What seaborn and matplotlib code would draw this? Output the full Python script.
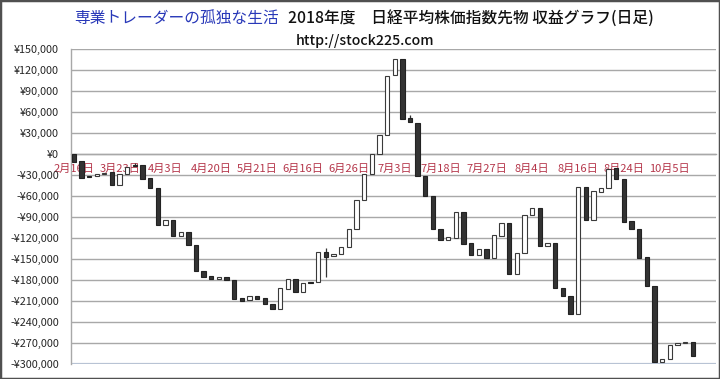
import matplotlib
matplotlib.use("Agg")
import matplotlib.pyplot as plt
from matplotlib.patches import Rectangle
from matplotlib.ticker import FuncFormatter
import numpy as np
import pandas as pd
import seaborn as sns

# ---- data (yen) ----
open_vals = [0, -10300, -31000, -31500, -28000, -25600, -44700, -29000, -15000, -16000,
             -34200, -48000, -101000, -94700, -117000, -111000, -129600, -167300, -174400, -179200,
             -175400, -180000, -206000, -209300, -203500, -206400, -215000, -221200, -192600, -178300,
             -196900, -182500, -183500, -140500, -146300, -143400, -133400, -107600, -66100, -28900,
             0, 27800, 112800, 136500, 51200, 45000, -31800, -59500, -107200, -122500,
             -119600, -82400, -127600, -144400, -136200, -148200, -116800, -98600, -172000, -142000,
             -87600, -77100, -131000, -126800, -191200, -203000, -229300, -47500, -94300, -53800,
             -49000, -20300, -36100, -95700, -106800, -147300, -188300, -297000, -293200, -273200,
             -270700, -268500]
close_vals = [-11600, -34200, -33000, -28000, -26500, -44700, -28000, -19000, -16500, -35200,
              -49000, -101500, -95000, -117200, -111000, -130500, -167700, -175900, -179200, -176300,
              -180000, -207000, -209800, -203000, -207000, -215000, -221700, -192000, -178300, -197300,
              -184000, -184000, -140500, -146800, -143000, -132500, -107600, -66100, -28900, 0,
              27800, 112200, 136500, 50200, 46000, -31800, -59500, -107200, -122900, -119000,
              -82400, -128200, -144800, -136200, -148200, -116200, -98200, -172000, -142000, -86700,
              -77100, -131500, -127000, -192000, -203000, -229300, -47500, -94300, -52800, -48000,
              -21800, -36100, -97200, -107600, -148200, -188700, -297100, -292800, -273200, -270000,
              -268500, -289000]
tick_pos = [0, 6, 12, 18, 24, 30, 36, 42, 48, 54, 60, 66, 72, 78]
tick_labels = ["2月16日", "3月23日", "4月3日", "4月20日", "5月21日", "6月16日", "6月26日",
               "7月3日", "7月18日", "7月27日", "8月4日", "8月16日", "8月24日", "10月5日"]
wick_idx = [8, 33, 44]
wick_high = [-13000, -134800, 56000]
wick_low = [-16500, -175400, 46000]
y_ticks = [-300000, -270000, -240000, -210000, -180000, -150000, -120000, -90000, -60000,
           -30000, 0, 30000, 60000, 90000, 120000, 150000]

title_blue = "専業トレーダーの孤独な生活"
title_black = "2018年度　日経平均株価指数先物 収益グラフ(日足)"
subtitle = "http://stock225.com"

# ---- style ----
sns.set_theme(style="white")
plt.rcParams['font.family'] = ['Noto Sans CJK JP', 'DejaVu Sans']

fig = plt.figure(figsize=(7.2, 3.79), dpi=100)
fig.patch.set_facecolor("white")
L, R, T, B = 70.7, 716.0, 49.3, 363.7
ax = fig.add_axes([L / 720, 1 - B / 379, (R - L) / 720, (B - T) / 379])

n = len(open_vals)
df = pd.DataFrame({"day": [str(i) for i in range(n)], "open": open_vals, "close": close_vals})
df["low"] = df[["open", "close"]].min(axis=1)
df["body"] = (df["close"] - df["open"]).abs()
df["up"] = df["close"] > df["open"]

# wicks (behind bodies)
ax.vlines(wick_idx, wick_low, wick_high, color="#333333", lw=0.9, zorder=2)

sns.barplot(data=df, x="day", y="body", order=list(df["day"]), bottom=df["low"].values,
            errorbar=None, width=0.57, color="#333333", saturation=1, ax=ax, zorder=3)
for patch, up in zip(ax.patches, df["up"]):
    if up:
        patch.set_facecolor("white")
        patch.set_edgecolor("#3a3a3a")
    else:
        patch.set_facecolor("#333333")
        patch.set_edgecolor("#222222")
    patch.set_linewidth(0.8)

ax.set_ylim(-300000, 150000)
ax.set_xlim(-0.4, 84.05)
ax.set_yticks(y_ticks)


def yen(v, pos):
    s = "¥{:,}".format(abs(int(round(v))))
    return "-" + s if v < 0 else s


ax.yaxis.set_major_formatter(FuncFormatter(yen))
ax.yaxis.grid(True, color="#A8A8A8", lw=1.0)
ax.set_axisbelow(True)
ax.axhline(-300000, color="#B8C3D4", lw=1.6, zorder=1.5)

ax.set_xticks(tick_pos)
ax.set_xticklabels(tick_labels)
ax.tick_params(axis="x", length=0, pad=7, labelsize=8.0, labelcolor="#B5364A")
ax.tick_params(axis="y", length=0, pad=8.5, labelsize=7.8, labelcolor="#262626")
for lbl in ax.get_xticklabels():
    lbl.set_zorder(2.5)
ax.set_xlabel("")
ax.set_ylabel("")

for s in ["top", "right"]:
    ax.spines[s].set_visible(False)
ax.spines["bottom"].set_position(("data", 0))
ax.spines["bottom"].set_color("#A8A8A8")
ax.spines["bottom"].set_linewidth(1.0)
ax.spines["left"].set_color("#A8A8A8")
ax.spines["left"].set_linewidth(1.0)

# ---- title ----
ty = 1 - 18 / 379
t1 = fig.text(0, ty, title_blue, color="#2838B8", fontsize=11.3, va="center", ha="left")
t2 = fig.text(0, ty, title_black, color="#111111", fontsize=11.3, va="center", ha="left",
              fontweight="medium")
fig.canvas.draw()
r = fig.canvas.get_renderer()
w1 = t1.get_window_extent(r).width
w2 = t2.get_window_extent(r).width
gap = 9
total = w1 + gap + w2
x0 = 364 - total / 2
t1.set_x(x0 / 720)
t2.set_x((x0 + w1 + gap) / 720)
fig.text(365 / 720, 1 - 41 / 379, subtitle, color="#111111", fontsize=10.2, va="center",
         ha="center", fontweight="medium")

# figure border
fig.add_artist(Rectangle((0, 0), 1, 1, transform=fig.transFigure, fill=False,
                         edgecolor="#505050", lw=2.5))

fig.savefig("out.png", dpi=100)
